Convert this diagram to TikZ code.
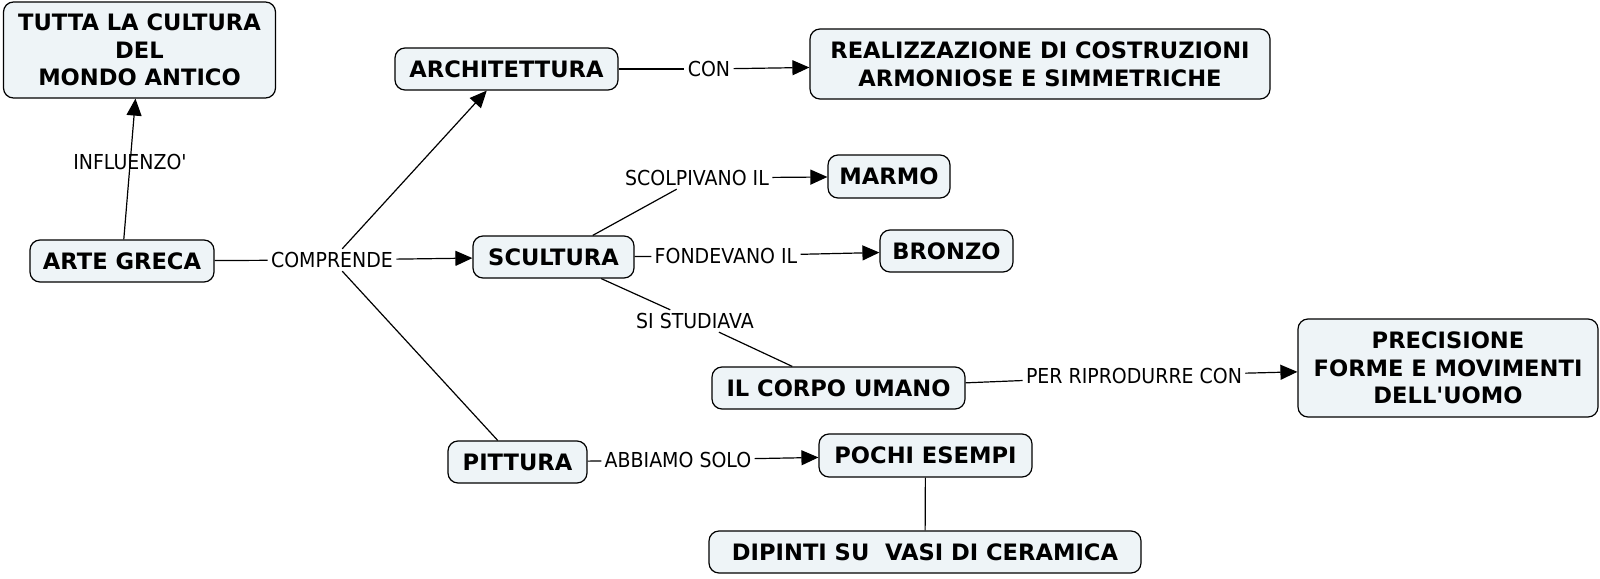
\documentclass[tikz,border=0pt]{standalone}
\usepackage{fontspec}
\setmainfont{DejaVu Sans}
\newfontfamily\linkfont{DejaVu Sans}[FakeStretch=0.92]
\usepackage{tikz}
\usetikzlibrary{arrows.meta, positioning}
\definecolor{cmapfill}{RGB}{238,244,247}

\begin{document}
\begin{tikzpicture}[
    x=0.5pt, y=-0.5pt,
    concept/.style={draw, line width=0.6pt, rounded corners=5pt, fill=cmapfill,
                    align=center, inner sep=0pt,
                    font=\bfseries\fontsize{11.3}{13.8}\selectfont},
    link/.style={inner sep=1.5pt, font=\linkfont\fontsize{10.3}{12}\selectfont},
    line/.style={line width=0.6pt},
    arr/.style={line, -{Triangle[length=8.5pt, width=7.5pt]}}
]
    \useasboundingbox (0,0) rectangle (1600,578);

    % concetti
    \node[concept, minimum width=136pt, minimum height=48pt] (tutta) at (139.5,50)
        {TUTTA LA CULTURA\\DEL\\MONDO ANTICO};
    \node[concept, minimum width=92pt, minimum height=21pt] (arte) at (122,261) {ARTE GRECA};
    \node[concept, minimum width=111.5pt, minimum height=21pt] (archi) at (506.5,69) {ARCHITETTURA};
    \node[concept, minimum width=230pt, minimum height=35pt] (realiz) at (1040,64)
        {REALIZZAZIONE DI COSTRUZIONI\\ARMONIOSE E SIMMETRICHE};
    \node[concept, minimum width=80.5pt, minimum height=21pt] (scult) at (553.5,257) {SCULTURA};
    \node[concept, minimum width=61pt, minimum height=21.5pt] (marmo) at (889,176.5) {MARMO};
    \node[concept, minimum width=66.5pt, minimum height=21pt] (bronzo) at (946.5,251) {BRONZO};
    \node[concept, minimum width=126.5pt, minimum height=21pt] (corpo) at (838.5,388) {IL CORPO UMANO};
    \node[concept, minimum width=150pt, minimum height=49pt] (precis) at (1448,368)
        {PRECISIONE\\FORME E MOVIMENTI\\DELL\textquotesingle UOMO};
    \node[concept, minimum width=69.5pt, minimum height=21pt] (pitt) at (517.5,462) {PITTURA};
    \node[concept, minimum width=106.5pt, minimum height=21.5pt] (pochi) at (925.5,455.5) {POCHI ESEMPI};
    \node[concept, minimum width=216pt, minimum height=21pt] (dipinti) at (925,552)
        {DIPINTI SU~~VASI DI CERAMICA};

    % parole di collegamento
    \node[link] (comp) at (332,260) {COMPRENDE};
    \node[link] (con) at (709,69) {CON};
    \node[link] (scolp) at (697,178) {SCOLPIVANO IL};
    \node[link] (fond) at (726,256) {FONDEVANO IL~};
    \node[link] (studi) at (695,321) {SI STUDIAVA};
    \node[link] (riprod) at (1134,376) {PER RIPRODURRE CON};
    \node[link] (abb) at (678,460) {ABBIAMO SOLO};

    \draw[arr] (arte) -- node[link, pos=0.55] (infl) {INFLUENZO\textquotesingle} (tutta);

    \draw[line] (arte) -- (comp);
    \draw[arr] (comp) -- (scult);
    \draw[arr] (comp) -- (archi);
    \draw[line] (comp) -- (pitt);

    \draw[line] (archi) -- (con);
    \draw[arr] (con) -- (realiz);

    \draw[line] (scult) -- (scolp);
    \draw[arr] (scolp) -- (marmo);
    \draw[line] (scult) -- (fond);
    \draw[arr] (fond) -- (bronzo);
    \draw[line] (scult) -- (studi);
    \draw[line] (studi) -- (corpo);

    \draw[line] (corpo) -- (riprod);
    \draw[arr] (riprod) -- (precis);

    \draw[line] (pitt) -- (abb);
    \draw[arr] (abb) -- (pochi);
    \draw[line] (pochi) -- (dipinti);
\end{tikzpicture}
\end{document}
